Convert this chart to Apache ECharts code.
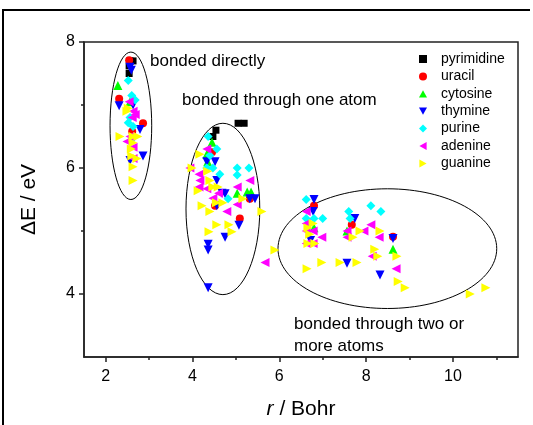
<!DOCTYPE html>
<html><head><meta charset="utf-8">
<script src="https://cdn.jsdelivr.net/npm/echarts@6/dist/echarts.min.js"></script>
<style>html,body{margin:0;padding:0;background:#fff}#c{width:533px;height:425px}</style>
</head><body><div id="c"></div>
<script>
const pyrimidine = [[2.56,7.70],[2.63,7.70],[2.54,7.62],[2.54,7.50],[4.54,6.60],[4.47,6.50],[5.05,6.71],[5.19,6.71]];
const uracil = [[2.54,7.71],[2.31,7.10],[2.86,6.71],[2.61,6.58],[4.40,6.22],[4.45,6.25],[4.52,5.40],[5.09,5.20],[5.32,5.51],[6.80,5.40],[7.67,5.10],[8.62,4.91]];
const cytosine = [[2.28,7.31],[2.56,7.05],[4.45,6.41],[4.33,6.22],[4.35,6.10],[5.03,5.60],[5.26,5.62],[5.35,5.62],[6.80,5.05],[7.56,5.00],[8.62,4.71]];
const thymine = [[2.56,7.60],[2.59,7.55],[2.31,6.99],[2.63,7.00],[2.79,6.61],[2.86,6.19],[2.56,6.12],
  [4.33,6.10],[4.52,6.10],[4.56,5.80],[4.75,5.59],[4.68,5.60],[5.32,5.51],[5.44,5.51],[4.56,5.40],[5.07,5.09],[4.75,4.90],[4.36,4.79],[4.36,4.70],[4.36,4.10],
  [6.80,5.50],[6.78,5.31],[7.74,5.20],[8.62,4.88],[7.56,4.49],[8.32,4.30],[6.72,4.85]];
const purine = [[2.52,7.39],[2.68,7.08],[2.60,7.15],[2.52,6.72],[2.63,6.66],[2.56,6.80],[2.59,6.45],
  [4.36,6.50],[4.56,6.30],[4.33,6.00],[4.47,6.00],[4.40,6.20],[4.63,5.90],[5.03,6.00],[5.30,6.00],[5.03,5.89],[4.82,5.51],
  [6.62,5.50],[6.62,5.20],[6.80,5.20],[7.00,5.20],[7.60,5.31],[7.63,5.20],[8.11,5.40],[8.34,5.31]];
const adenine = [[2.54,7.05],[2.63,6.90],[2.61,6.80],[2.56,6.50],[2.63,6.33],[2.49,6.42],[2.63,6.15],[2.68,6.85],
  [4.33,6.30],[3.94,6.00],[4.15,5.90],[4.17,5.80],[5.32,5.80],[4.15,5.70],[4.33,5.67],[5.03,5.70],[4.47,5.52],[5.03,5.42],[4.79,5.31],[4.60,5.60],[5.67,4.50],
  [6.62,5.31],[6.62,5.12],[6.62,5.00],[6.78,5.00],[6.98,4.90],[6.62,4.80],[6.78,4.80],[7.56,5.00],[7.56,4.90],[7.95,5.00],[8.11,5.10],[8.30,4.90],[8.14,4.60],[8.69,4.40]];
const guanine = [[2.49,6.90],[2.52,6.95],[2.33,6.50],[2.63,6.50],[2.74,6.50],[2.63,6.40],[2.59,6.30],[2.60,6.19],[2.72,6.15],[2.63,6.02],[2.63,5.80],
  [4.17,6.22],[3.99,6.00],[4.35,5.95],[4.40,5.80],[4.47,5.70],[4.59,5.70],[4.13,5.64],[4.55,5.45],[4.70,5.45],[5.16,5.51],[4.22,5.40],[4.40,5.31],[5.60,5.31],[4.56,5.10],[4.84,5.10],[4.38,4.99],[4.91,4.99],[5.90,4.70],
  [6.78,5.12],[6.66,5.05],[6.70,4.95],[6.66,4.80],[6.82,4.80],[7.70,4.90],[7.86,5.00],[8.32,5.00],[8.20,4.71],[8.27,4.60],[8.71,4.60],[6.64,4.40],[6.98,4.50],[7.40,4.50],[7.79,4.50],[8.74,4.20],[8.90,4.10],[10.40,4.00],[10.76,4.10]];

const seriesNames = ['pyrimidine','uracil','cytosine','thymine','purine','adenine','guanine'];
const xMajorTicks = [2,4,6,8,10];
const xMinorTicks = [3,5,7,9,11];
const yMajorTicks = [4,6,8];
const yMinorTicks = [5,7];
const ellipseCX = [2.58, 4.70, 8.49];
const ellipseCY = [6.67, 5.35, 4.72];
const ellipseRX = [0.48, 0.85, 2.52];
const ellipseRY = [1.17, 1.36, 0.95];
const annotations = ['bonded directly','bonded through one atom','bonded through two or\nmore atoms'];

const FONT = '"Liberation Sans", Arial, sans-serif';
const chart = echarts.init(document.getElementById('c'), null, {renderer:'canvas'});
const styles = [
  {symbol:'rect', color:'#000000', size:7, rot:0, icon:'rect'},
  {symbol:'circle', color:'#ff0000', size:8, rot:0, icon:'circle'},
  {symbol:'triangle', color:'#00ff00', size:9, rot:0, icon:'path://M5,0L10,9L0,9Z'},
  {symbol:'triangle', color:'#0000ff', size:9, rot:180, icon:'path://M0,0L10,0L5,9Z'},
  {symbol:'diamond', color:'#00ffff', size:9, rot:0, icon:'diamond'},
  {symbol:'triangle', color:'#ff00ff', size:9, rot:90, icon:'path://M0,5L9,0L9,10Z'},
  {symbol:'triangle', color:'#ffff00', size:9, rot:-90, icon:'path://M0,0L9,5L0,10Z'}
];
const dataSets = [pyrimidine, uracil, cytosine, thymine, purine, adenine, guanine];
const ellData = ellipseCX.map((v,i)=>[v, ellipseCY[i], ellipseRX[i], ellipseRY[i]]);

const axisLineStyle = {color:'#222', width:1.5};
const series = [{
  type:'custom', name:'ellipses', silent:true, z:1,
  data: ellData,
  renderItem: function(params, api){
    const cx = api.value(0), cy = api.value(1), rx = api.value(2), ry = api.value(3);
    const c = api.coord([cx, cy]);
    const p = api.coord([cx + rx, cy + ry]);
    return {type:'ellipse', shape:{cx:c[0], cy:c[1], rx:Math.abs(p[0]-c[0]), ry:Math.abs(c[1]-p[1])},
      style:{fill:null, stroke:'#000', lineWidth:1}};
  }
}];
dataSets.forEach((d,i)=>{
  series.push({type:'scatter', name:seriesNames[i], data:d, symbol:styles[i].symbol, symbolSize:styles[i].size,
    symbolRotate:styles[i].rot, itemStyle:{color:styles[i].color, opacity:1}, z:2+i});
});

chart.setOption({
  animation:false,
  backgroundColor:'#fff',
  grid:{left:84, top:42, right:15, bottom:66, show:true, borderColor:'#222', borderWidth:1.5, backgroundColor:'transparent'},
  xAxis:[{type:'value', min:1.5, max:11.5, position:'bottom',
    axisLine:{show:true, onZero:false, lineStyle:axisLineStyle},
    axisTick:{show:true, customValues:xMajorTicks, length:5, lineStyle:axisLineStyle},
    axisLabel:{customValues:xMajorTicks, color:'#000', fontSize:16, fontFamily:FONT, margin:12},
    splitLine:{show:false},
    name:'{i|r} / Bohr', nameLocation:'middle', nameGap:42,
    nameTextStyle:{color:'#000', fontSize:21, fontFamily:FONT, rich:{i:{fontStyle:'italic', fontSize:21, fontFamily:FONT, color:'#000'}}}
  },{type:'value', min:1.5, max:11.5, position:'bottom', gridIndex:0,
    axisLine:{show:false}, axisTick:{show:true, customValues:xMinorTicks, length:3, lineStyle:axisLineStyle},
    axisLabel:{show:false}, splitLine:{show:false}}],
  yAxis:[{type:'value', min:3, max:8, position:'left',
    axisLine:{show:true, onZero:false, lineStyle:axisLineStyle},
    axisTick:{show:true, customValues:yMajorTicks, length:5, lineStyle:axisLineStyle},
    axisLabel:{customValues:yMajorTicks, color:'#000', fontSize:16, fontFamily:FONT, margin:9},
    splitLine:{show:false},
    name:'ΔE / eV', nameLocation:'middle', nameGap:44,
    nameTextStyle:{color:'#000', fontSize:21, fontFamily:FONT}
  },{type:'value', min:3, max:8, position:'left',
    axisLine:{show:false}, axisTick:{show:true, customValues:yMinorTicks, length:3, lineStyle:axisLineStyle},
    axisLabel:{show:false}, splitLine:{show:false}}],
  legend:{data:seriesNames.map((n,i)=>({name:n, icon:styles[i].icon})), orient:'vertical', left:414, top:47,
    itemWidth:8, itemHeight:8, itemGap:3.4,
    textStyle:{color:'#000', fontSize:14, fontFamily:FONT, padding:[0,0,0,9]}, selectedMode:false},
  graphic:[
    {type:'polyline', shape:{points:[[3,425],[3,10],[530,10]]}, style:{stroke:'#000', lineWidth:2, fill:null}},
    {type:'text', left:150, top:53, style:{text:annotations[0], fill:'#000', font:'17px '+FONT}},
    {type:'text', left:182, top:92, style:{text:annotations[1], fill:'#000', font:'17px '+FONT}},
    {type:'text', left:294, top:313, style:{text:annotations[2], fill:'#000', font:'17px '+FONT, lineHeight:22}}
  ],
  series:series
});
</script></body></html>
